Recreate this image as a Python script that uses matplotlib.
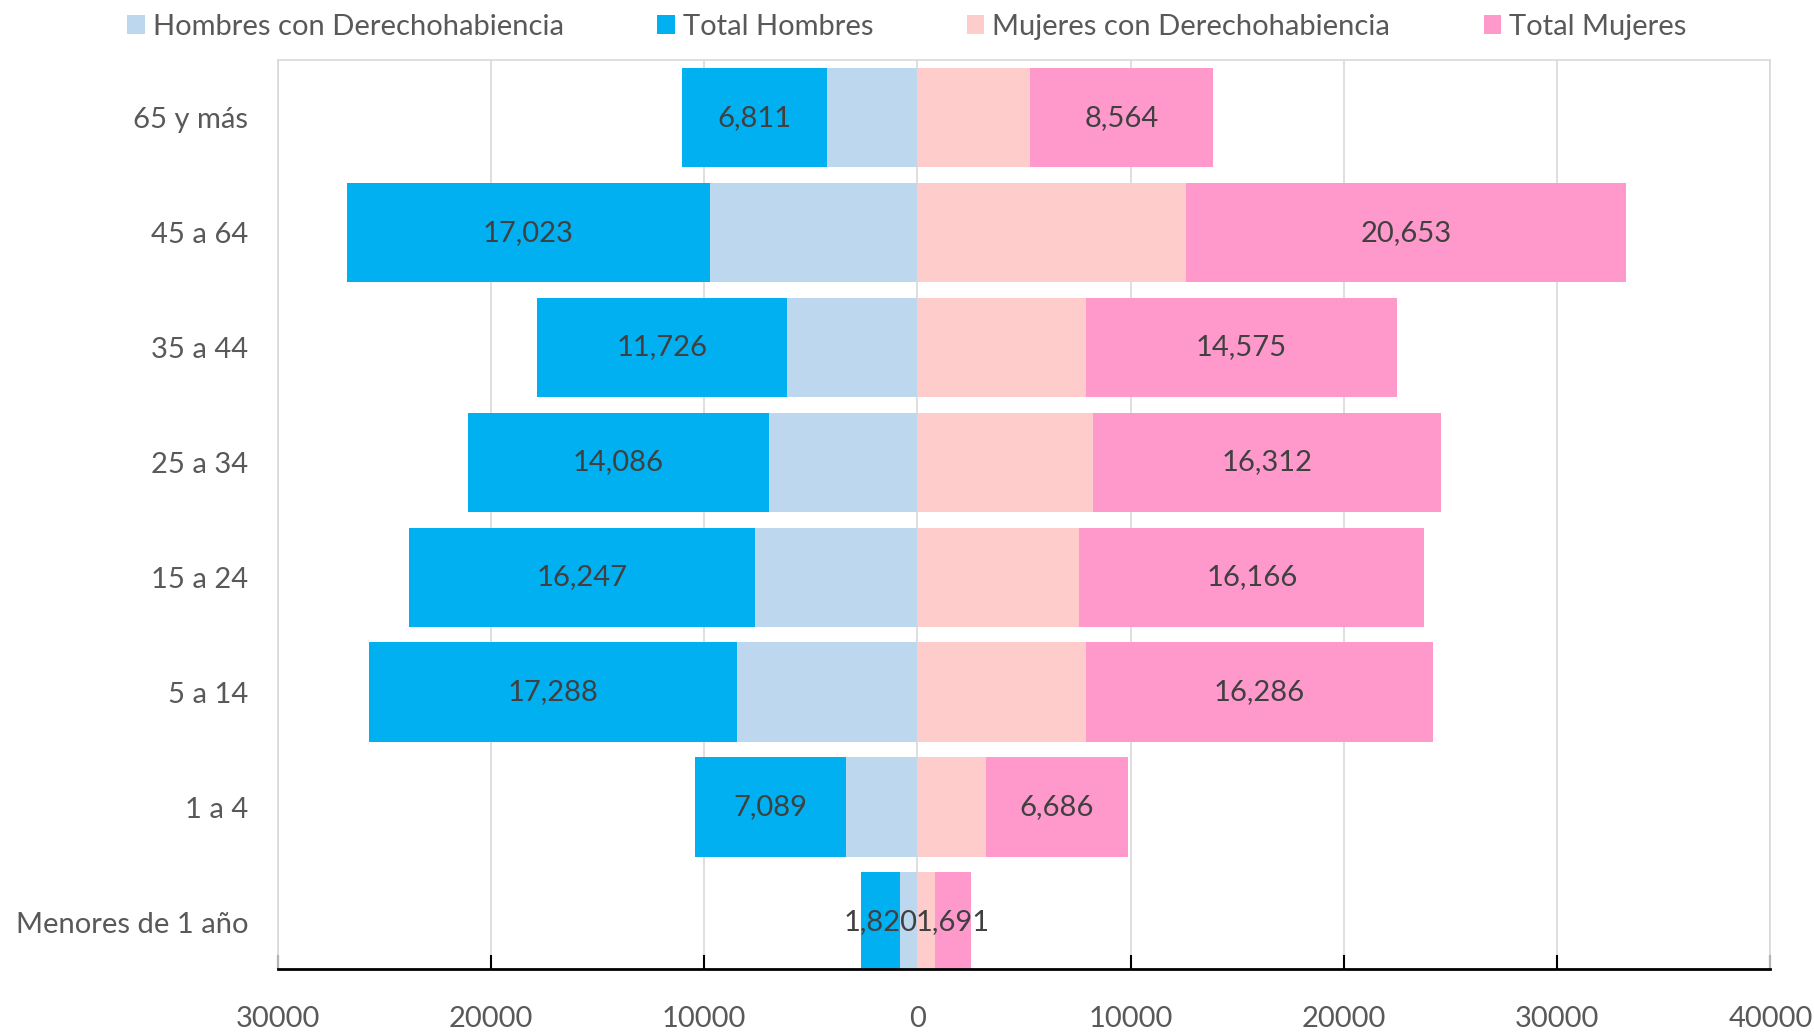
import matplotlib
matplotlib.use("Agg")
import matplotlib.pyplot as plt
from matplotlib.ticker import FuncFormatter, FixedLocator

plt.rcParams['font.family'] = ['Lato', 'DejaVu Sans']

categories = ["Menores de 1 año", "1 a 4", "5 a 14", "15 a 24", "25 a 34", "35 a 44", "45 a 64", "65 y más"]
hombres_der = [830, 3330, 8440, 7610, 6980, 6090, 9720, 4230]
total_hombres = [1820, 7089, 17288, 16247, 14086, 11726, 17023, 6811]
mujeres_der = [810, 3205, 7890, 7600, 8230, 7900, 12580, 5280]
total_mujeres = [1691, 6686, 16286, 16166, 16312, 14575, 20653, 8564]
xticks = [-30000, -20000, -10000, 0, 10000, 20000, 30000, 40000]

c_hd = "#BDD7EE"
c_th = "#00B0F0"
c_md = "#FFCCCC"
c_tm = "#FF99CC"
txt = "#404040"
tick_c = "#595959"
fs = 21

fig = plt.figure(figsize=(18.14, 10.33), dpi=100)
ax = fig.add_axes([0.153, 0.0615, 0.823, 0.8805])

y = list(range(len(categories)))
h = 0.866
neg_hd = [-v for v in hombres_der]
neg_th = [-v for v in total_hombres]

b1 = ax.barh(y, neg_hd, height=h, color=c_hd, label="Hombres con Derechohabiencia", zorder=2)
b2 = ax.barh(y, neg_th, left=neg_hd, height=h, color=c_th, label="Total Hombres", zorder=2)
b3 = ax.barh(y, mujeres_der, height=h, color=c_md, label="Mujeres con Derechohabiencia", zorder=2)
b4 = ax.barh(y, total_mujeres, left=mujeres_der, height=h, color=c_tm, label="Total Mujeres", zorder=2)

for i in y:
    cx = neg_hd[i] + neg_th[i] / 2
    ax.text(cx, i, f"{total_hombres[i]:,}", ha="center", va="center", fontsize=fs, color=txt, zorder=3)
    cx2 = mujeres_der[i] + total_mujeres[i] / 2
    ax.text(cx2, i, f"{total_mujeres[i]:,}", ha="center", va="center", fontsize=fs, color=txt, zorder=3)

ax.set_xlim(-30000, 40000)
ax.set_ylim(-0.413, 7.503)
ax.xaxis.set_major_locator(FixedLocator(xticks))
ax.xaxis.set_major_formatter(FuncFormatter(lambda v, p: f"{abs(int(v))}"))
ax.set_yticks(y)
ax.set_yticklabels(categories)

ax.grid(axis="x", color="#D9D9D9", linewidth=1.2, zorder=1)
ax.set_axisbelow(True)
for s in ["top", "left", "right"]:
    ax.spines[s].set_color("#D9D9D9")
    ax.spines[s].set_linewidth(1.2)
ax.spines["bottom"].set_color("black")
ax.spines["bottom"].set_linewidth(2)

ax.tick_params(axis="x", direction="in", length=10, width=1.5, color="black", pad=26,
               labelsize=fs, labelcolor=tick_c)
ax.tick_params(axis="y", length=0, pad=21, labelsize=fs, labelcolor=tick_c)

fig.legend(handles=[b1, b2, b3, b4], loc="upper center", bbox_to_anchor=(0.5, 1.012), ncol=4,
           frameon=False, fontsize=fs, handlelength=0.6, handleheight=0.6, handletextpad=0.28,
           columnspacing=3.2, labelcolor=tick_c)

fig.savefig("out.png", dpi=100)
